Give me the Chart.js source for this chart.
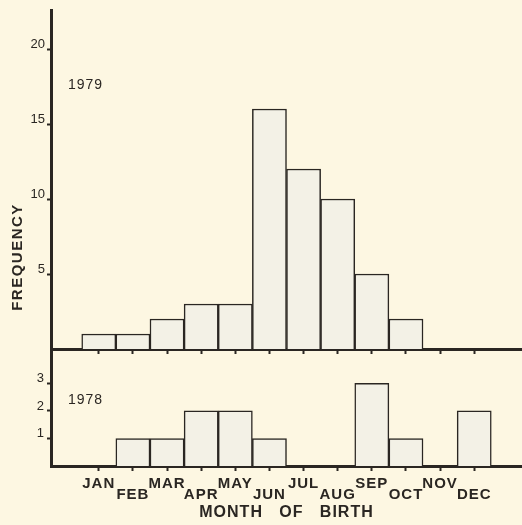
<!DOCTYPE html>
<html>
<head>
<meta charset="utf-8">
<title>Month of birth</title>
<script src="https://cdn.jsdelivr.net/npm/chart.js@4.4.1/dist/chart.umd.min.js"></script>
<style>
  html, body { margin: 0; padding: 0; background: #fdf7e2; }
  #wrap { position: relative; width: 522px; height: 525px; overflow: hidden; }
  #wrap canvas { position: absolute; left: 0; }
  #top { top: 0; }
  #bottom { top: 349px; }
</style>
</head>
<body>
<div id="wrap">
  <canvas id="top" width="522" height="360"></canvas>
  <canvas id="bottom" width="522" height="176"></canvas>
</div>
<script>
// data
var months = ["JAN", "FEB", "MAR", "APR", "MAY", "JUN", "JUL", "AUG", "SEP", "OCT", "NOV", "DEC"];
var freq1979 = [1, 1, 2, 3, 3, 16, 12, 10, 5, 2, 0, 0];
var freq1978 = [0, 1, 1, 2, 2, 1, 0, 0, 3, 1, 0, 2];
var yTicks1979 = [5, 10, 15, 20];
var yTicks1978 = [1, 2, 3];

var ink = "#2a2622";
var barFill = "#f3f1e6";
var fontFamily = "'Liberation Sans', Arial, Helvetica, sans-serif";

Chart.defaults.font.family = fontFamily;
Chart.defaults.color = ink;

function toPoints(values) {
  return values.map(function (v, i) {
    return { x: i + 1, y: v };
  });
}

function monthTicks(scale) {
  scale.ticks = months.map(function (m, i) {
    return { value: i + 1 };
  });
}

function xAxis(showLabels, height) {
  return {
    type: "linear",
    min: -0.4,
    max: 13.4,
    offset: false,
    afterBuildTicks: monthTicks,
    afterFit: function (scale) {
      scale.height = height;
      scale.paddingLeft = 0;
      scale.paddingRight = 0;
    },
    grid: {
      offset: false,
      drawOnChartArea: false,
      tickLength: 5,
      tickWidth: 2,
      tickColor: ink,
    },
    border: { color: ink, width: 3 },
    ticks: {
      display: showLabels,
      autoSkip: false,
      maxRotation: 0,
      padding: 7,
      font: { size: 15, weight: "bold", lineHeight: "11px" },
      callback: function (value) {
        var i = value - 1;
        return i % 2 === 0 ? [months[i]] : ["", months[i]];
      },
    },
    title: {
      display: showLabels,
      text: "MONTH   OF   BIRTH",
      font: { size: 16, weight: "bold" },
      padding: { top: 0, bottom: 3 },
    },
  };
}

function yAxis(max, tickValues) {
  return {
    min: 0,
    max: max,
    afterBuildTicks: function (scale) {
      scale.ticks = tickValues.map(function (v) {
        return { value: v };
      });
    },
    afterFit: function (scale) {
      scale.width = 51;
      scale.paddingTop = 0;
      scale.paddingBottom = 0;
    },
    grid: {
      drawOnChartArea: false,
      tickLength: 4,
      tickWidth: 2,
      tickColor: ink,
    },
    border: { color: ink, width: 3 },
    ticks: {
      padding: 2,
      labelOffset: -5,
      font: { size: 13 },
    },
  };
}

function yearLabel(text, yValue) {
  return {
    id: "yearLabel",
    afterDraw: function (chart) {
      var ctx = chart.ctx;
      ctx.save();
      ctx.font = "14px " + fontFamily;
      ctx.letterSpacing = "1px";
      ctx.fillStyle = ink;
      ctx.textBaseline = "middle";
      ctx.fillText(text, chart.chartArea.left + 17, chart.scales.y.getPixelForValue(yValue));
      ctx.restore();
    },
  };
}

var freqTitle = {
  id: "freqTitle",
  afterDraw: function (chart) {
    var ctx = chart.ctx;
    ctx.save();
    ctx.translate(18, 257);
    ctx.rotate(-Math.PI / 2);
    ctx.font = "bold 15px " + fontFamily;
    ctx.letterSpacing = "1.5px";
    ctx.fillStyle = ink;
    ctx.textAlign = "center";
    ctx.textBaseline = "middle";
    ctx.fillText("FREQUENCY", 0, 0);
    ctx.restore();
  },
};

var spacing = {
  id: "spacing",
  beforeDraw: function (chart) {
    chart.ctx.letterSpacing = "1px";
  },
};

function barSet(values) {
  return {
    data: toPoints(values),
    backgroundColor: barFill,
    borderColor: ink,
    borderWidth: 1.5,
    barPercentage: 1,
    categoryPercentage: 1,
  };
}

var common = {
  responsive: false,
  animation: false,
  plugins: { legend: { display: false }, tooltip: { enabled: false } },
};

new Chart(document.getElementById("top").getContext("2d"), {
  type: "bar",
  data: { datasets: [barSet(freq1979)] },
  options: Object.assign({}, common, {
    layout: { padding: { top: 10, right: 0, bottom: 0, left: 0 } },
    scales: {
      x: xAxis(false, 11),
      y: yAxis(22.6, yTicks1979),
    },
  }),
  plugins: [yearLabel("1979", 17.6), freqTitle],
});

new Chart(document.getElementById("bottom").getContext("2d"), {
  type: "bar",
  data: { datasets: [barSet(freq1978)] },
  options: Object.assign({}, common, {
    layout: { padding: 0 },
    scales: {
      x: xAxis(true, 59),
      y: yAxis(4.25, yTicks1978),
    },
  }),
  plugins: [spacing, yearLabel("1978", 2.4)],
});
</script>
</body>
</html>
